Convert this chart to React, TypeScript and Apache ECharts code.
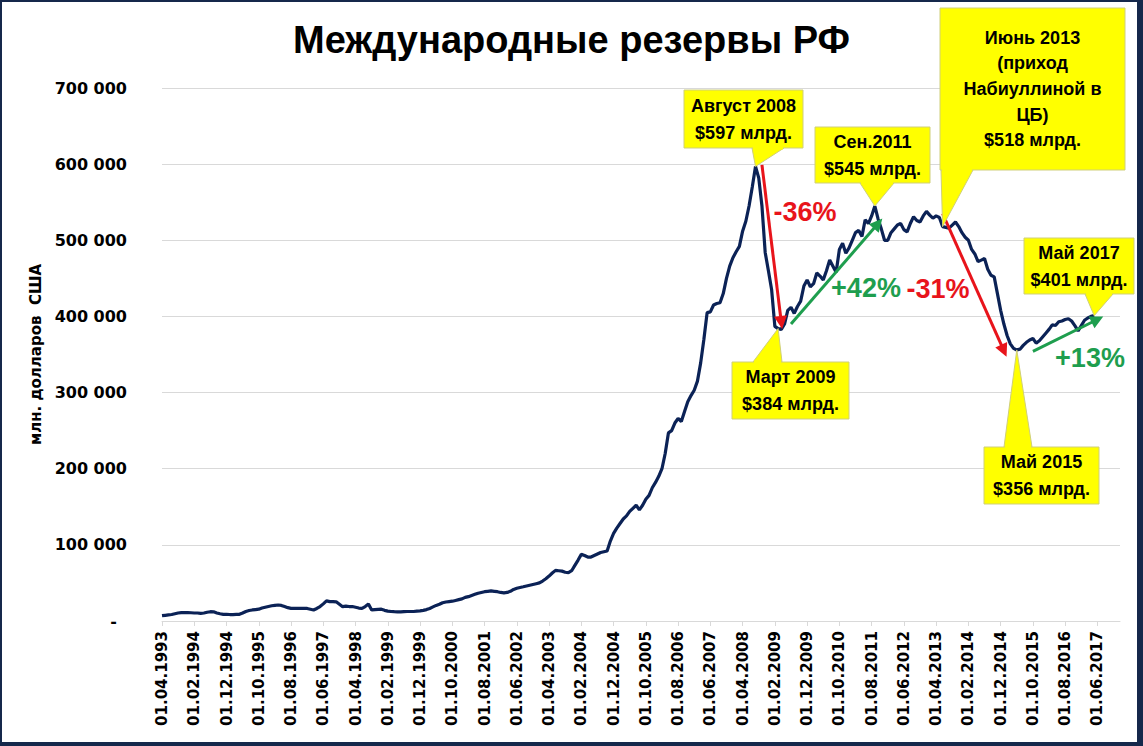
import React, { useEffect, useRef } from 'react';
import * as echarts from 'echarts';

const TITLE = 'Международные резервы РФ';
const Y_NAME = 'млн. долларов  США';

const FIRST_YEAR = 1993;
const FIRST_MONTH = 4;
const MONTH_COUNT = 298;

const categories: string[] = Array.from({ length: MONTH_COUNT }, (_, i) => {
  const t = FIRST_MONTH - 1 + i;
  const y = FIRST_YEAR + Math.floor(t / 12);
  const m = (t % 12) + 1;
  return `01.${String(m).padStart(2, '0')}.${y}`;
});

// Monthly reserves, million USD
const reserves1993 = [7000, 7500, 8000, 8500, 9500, 10500, 11000, 11000, 11000];
const reserves1994 = [10800, 10500, 10500, 10000, 10500, 11500, 12200, 12000, 10500, 9500, 8800, 8800];
const reserves1995 = [8500, 8500, 8700, 8800, 10500, 12500, 13800, 14500, 15000, 15500, 17000, 18000];
const reserves1996 = [19000, 20000, 20500, 21000, 20500, 19000, 17500, 16600, 16600, 16500, 16600, 16600];
const reserves1997 = [16500, 15500, 14500, 16500, 19000, 22500, 26500, 25500, 25500, 25200, 22000, 18800];
const reserves1998 = [19500, 19000, 19000, 18000, 17000, 16600, 19000, 22300, 14500, 15000, 15300, 15500];
const reserves1999 = [14000, 13000, 12500, 12200, 12000, 12000, 12300, 12500, 12500, 12500, 13000, 13300];
const reserves2000 = [14000, 15000, 16500, 18500, 20500, 22000, 24000, 25000, 25500, 26000, 27000, 28000];
const reserves2001 = [29000, 31000, 32000, 33500, 35000, 36500, 37500, 38500, 39000, 39500, 39000, 38500];
const reserves2002 = [37500, 37000, 37500, 39000, 41500, 43000, 44000, 45000, 46000, 47000, 48000, 49000];
const reserves2003 = [50000, 52500, 55500, 59000, 63000, 66500, 66000, 65500, 64000, 63500, 66000, 73000];
const reserves2004 = [80000, 87500, 86000, 84000, 84000, 86000, 88000, 90000, 91000, 92000, 105000, 115000];
const reserves2005 = [122000, 128000, 134000, 138000, 144000, 148000, 152000, 146000, 152000, 160000, 165000, 175000];
const reserves2006 = [182000, 190000, 200000, 220000, 247000, 250000, 260000, 266000, 262000, 275000, 288000, 296000];
const reserves2007 = [303000, 315000, 339000, 370000, 405000, 406000, 415000, 417000, 418000, 430000, 450000, 466000];
const reserves2008 = [477000, 485000, 492000, 512000, 525000, 545000, 570000, 597000, 582000, 545000, 484000, 460000];
const reserves2009 = [435000, 387000, 384000, 383000, 390000, 408000, 412000, 404000, 413000, 420000, 440000, 448000];
const reserves2010 = [439000, 443000, 457000, 453000, 448000, 460000, 474000, 466000, 458000, 488000, 496000, 483000];
const reserves2011 = [490000, 500000, 510000, 513000, 505000, 527000, 522000, 532000, 545000, 528000, 515000, 500000];
const reserves2012 = [500000, 510000, 515000, 520000, 522000, 514000, 511000, 522000, 531000, 526000, 524000, 532000];
const reserves2013 = [538000, 533000, 529000, 532000, 530000, 518000, 517000, 516000, 520000, 524000, 518000, 510000];
const reserves2014 = [504000, 500000, 488000, 482000, 472000, 474000, 476000, 462000, 454000, 452000, 430000, 408000];
const reserves2015 = [390000, 375000, 364000, 358000, 356000, 357000, 362000, 366000, 369000, 371000, 365000, 368000];
const reserves2016 = [373000, 378000, 383000, 389000, 388000, 393000, 394000, 396000, 397000, 394000, 388000, 381000];
const reserves2017 = [388000, 395000, 398000, 400000, 401000];

const reserves: number[] = [
  ...reserves1993, ...reserves1994, ...reserves1995, ...reserves1996, ...reserves1997,
  ...reserves1998, ...reserves1999, ...reserves2000, ...reserves2001, ...reserves2002,
  ...reserves2003, ...reserves2004, ...reserves2005, ...reserves2006, ...reserves2007,
  ...reserves2008, ...reserves2009, ...reserves2010, ...reserves2011, ...reserves2012,
  ...reserves2013, ...reserves2014, ...reserves2015, ...reserves2016, ...reserves2017,
];

// Arrows in data space: [[fromIdx, fromValue], [toIdx, toValue]]
const downArrows: [number, number][][] = [
  [[186, 599000], [192, 392000]],
  [[242, 535000], [261, 355000]],
];
const upArrows: [number, number][][] = [
  [[195, 390000], [222, 522000]],
  [[270, 354000], [290, 396000]],
];

const pctLabels = ['-36%', '+42%', '-31%', '+13%'];

// Callouts: anchor in data space + text
const calloutIdx = [184, 221, 242, 289, 191, 265];
const calloutValues = [597000, 545000, 518000, 401000, 384000, 356000];
const calloutTexts = [
  ['Август 2008', '$597 млрд.'],
  ['Сен.2011', '$545 млрд.'],
  ['Июнь 2013', '(приход', 'Набиуллиной в', 'ЦБ)', '$518 млрд.'],
  ['Май 2017', '$401 млрд.'],
  ['Март 2009', '$384 млрд.'],
  ['Май 2015', '$356 млрд.'],
];

// Layout (pixels)
const calloutBoxes = [
  { x: 684, y: 90, w: 119, h: 58, b0: 752, b1: 784, side: 'bottom', lh: 27 },
  { x: 815, y: 127, w: 115, h: 56, b0: 860, b1: 894, side: 'bottom', lh: 27 },
  { x: 940, y: 8, w: 185, h: 162, b0: 941, b1: 973, side: 'bottom', lh: 25.7 },
  { x: 1024, y: 238, w: 110, h: 56, b0: 1085, b1: 1113, side: 'bottom', lh: 27 },
  { x: 732, y: 362, w: 117, h: 57, b0: 753, b1: 782, side: 'top', lh: 27 },
  { x: 984, y: 447, w: 115, h: 57, b0: 1004, b1: 1032, side: 'top', lh: 27 },
];
const pctPositions = [[805, 212], [866, 288], [938, 289], [1090, 358]];

const RED = '#E8141B';
const GREEN = '#1E9E4E';
const NAVY = '#0B2256';
const YELLOW = '#FFFF00';
const BOX_BORDER = '#CFCF7A';

function fmtY(v: number) {
  if (v === 0) return '{z|-}';
  return `${Math.round(v / 1000)} 000`;
}

export default function App() {
  const ref = useRef<HTMLDivElement>(null);
  useEffect(() => {
    if (!ref.current) return;
    const chart = echarts.init(ref.current, undefined, { renderer: 'svg' });
    const arrowItem = (a: [number, number][], color: string) => [
      { coord: a[0], lineStyle: { color, width: 3, type: 'solid' }, itemStyle: { color } },
      { coord: a[1], itemStyle: { color } },
    ];
    chart.setOption({
      animation: false,
      backgroundColor: '#ffffff',
      title: {
        text: TITLE,
        left: 'center',
        top: 16,
        textStyle: { fontFamily: 'Liberation Sans', fontWeight: 'bold', fontSize: 38, color: '#000' },
      },
      grid: { left: 162, right: 23, top: 88, bottom: 125, containLabel: false },
      xAxis: {
        type: 'category',
        data: categories,
        boundaryGap: false,
        axisLine: { show: true, lineStyle: { color: '#d9d9d9', width: 1 } },
        axisTick: { show: true, interval: 9, length: 5, lineStyle: { color: '#d9d9d9' } },
        axisLabel: {
          interval: 9,
          rotate: 90,
          margin: 10,
          fontFamily: 'DejaVu Sans',
          fontWeight: 'bold',
          fontSize: 15,
          color: '#000',
        },
        splitLine: { show: false },
      },
      yAxis: {
        type: 'value',
        min: 0,
        max: 700000,
        interval: 100000,
        name: Y_NAME,
        nameLocation: 'middle',
        nameRotate: 90,
        nameGap: 119,
        nameTextStyle: { fontFamily: 'DejaVu Sans', fontWeight: 'bold', fontSize: 15, color: '#000' },
        axisLine: { show: false },
        axisTick: { show: false },
        axisLabel: {
          margin: 35,
          formatter: fmtY,
          fontFamily: 'DejaVu Sans',
          fontWeight: 'bold',
          fontSize: 16,
          color: '#000',
          rich: { z: { padding: [0, 10, 0, 0], fontFamily: 'DejaVu Sans', fontWeight: 'bold', fontSize: 16, color: '#000' } },
        },
        splitLine: { show: true, lineStyle: { color: '#d9d9d9', width: 1 } },
      },
      series: [
        {
          type: 'line',
          data: reserves,
          showSymbol: false,
          symbol: 'none',
          lineStyle: { color: NAVY, width: 3.2 },
          itemStyle: { color: NAVY },
          z: 3,
          markLine: {
            silent: true,
            symbol: ['none', 'triangle'],
            symbolSize: 13,
            label: { show: false },
            emphasis: { disabled: true },
            data: [
              ...downArrows.map((a) => arrowItem(a, RED)),
              ...upArrows.map((a) => arrowItem(a, GREEN)),
            ],
          },
        },
      ],
    });

    const px = (i: number, v: number) =>
      chart.convertToPixel({ xAxisIndex: 0, yAxisIndex: 0 }, [i, v]) as number[];

    const graphics: any[] = [];
    calloutBoxes.forEach((b, k) => {
      const [ax, ay] = px(calloutIdx[k], calloutValues[k]);
      const edgeY = b.side === 'bottom' ? b.y + b.h : b.y;
      graphics.push({
        type: 'polygon',
        shape: { points: [[b.b0, edgeY], [b.b1, edgeY], [ax, ay]] },
        style: { fill: YELLOW, stroke: BOX_BORDER, lineWidth: 1 },
        z: 10,
      });
      graphics.push({
        type: 'rect',
        shape: { x: b.x, y: b.y, width: b.w, height: b.h },
        style: { fill: YELLOW, stroke: BOX_BORDER, lineWidth: 1 },
        z: 10,
      });
      graphics.push({
        type: 'rect',
        shape: { x: b.b0 + 1, y: edgeY - 1.5, width: b.b1 - b.b0 - 2, height: 3 },
        style: { fill: YELLOW },
        z: 11,
      });
      graphics.push({
        type: 'text',
        x: b.x + b.w / 2,
        y: b.y + b.h / 2,
        style: {
          text: calloutTexts[k].join('\n'),
          align: 'center',
          verticalAlign: 'middle',
          fontFamily: 'Liberation Sans',
          fontWeight: 'bold',
          fontSize: 18,
          lineHeight: b.lh,
          fill: '#000',
        },
        z: 12,
      });
    });
    pctLabels.forEach((t, k) => {
      graphics.push({
        type: 'text',
        x: pctPositions[k][0],
        y: pctPositions[k][1],
        style: {
          text: t,
          align: 'center',
          verticalAlign: 'middle',
          fontFamily: 'Liberation Sans',
          fontWeight: 'bold',
          fontSize: 27,
          fill: t.startsWith('-') ? RED : GREEN,
        },
        z: 12,
      });
    });
    // frame
    const FRAME = '#15284B';
    graphics.push(
      { type: 'rect', shape: { x: 0, y: 0, width: 1143, height: 2 }, style: { fill: FRAME }, z: 20 },
      { type: 'rect', shape: { x: 0, y: 0, width: 2, height: 746 }, style: { fill: FRAME }, z: 20 },
      { type: 'rect', shape: { x: 0, y: 742, width: 1143, height: 4 }, style: { fill: FRAME }, z: 20 },
      { type: 'rect', shape: { x: 1137, y: 0, width: 6, height: 746 }, style: { fill: FRAME }, z: 20 },
    );
    chart.setOption({ graphic: graphics });

    return () => chart.dispose();
  }, []);
  return (
    <div style={{ position: 'fixed', left: 0, top: 0, width: 1143, height: 746 }}>
      <div ref={ref} style={{ width: 1143, height: 746 }} />
    </div>
  );
}
